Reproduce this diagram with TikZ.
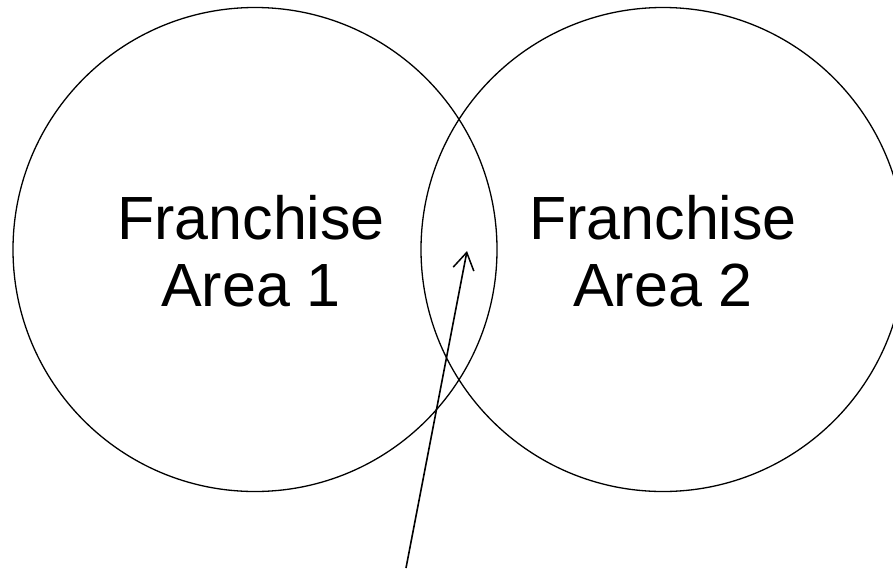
\documentclass[tikz,border=0pt]{standalone}
\usepackage{fontspec}
\setmainfont{Liberation Sans}
\usetikzlibrary{arrows.meta}
\begin{document}
\begin{tikzpicture}[x=1pt,y=-1pt,
  area/.style={circle, draw=black, line width=1.3pt, minimum size=484pt, inner sep=0pt},
  label/.style={align=center, anchor=base, font=\fontsize{61}{67}\selectfont, inner sep=0pt},
  pointer/.style={-{Straight Barb[length=17pt,width=21pt,line width=1.5pt]}, line width=1.6pt}]
\useasboundingbox (0,0) rectangle (893,568);
\clip (0,0) rectangle (893,568);
\node[area] (c1) at (255,249.5) {};
\node[area] (c2) at (663,249.5) {};
\node[label] (t1) at (251,306) {Franchise\\Area 1};
\node[label] (t2) at (663,306) {Franchise\\Area 2};
\coordinate (tail) at (406,568);
\coordinate (tip) at (467,251);
\draw[pointer] (tail) -- (tip);
\end{tikzpicture}
\end{document}
